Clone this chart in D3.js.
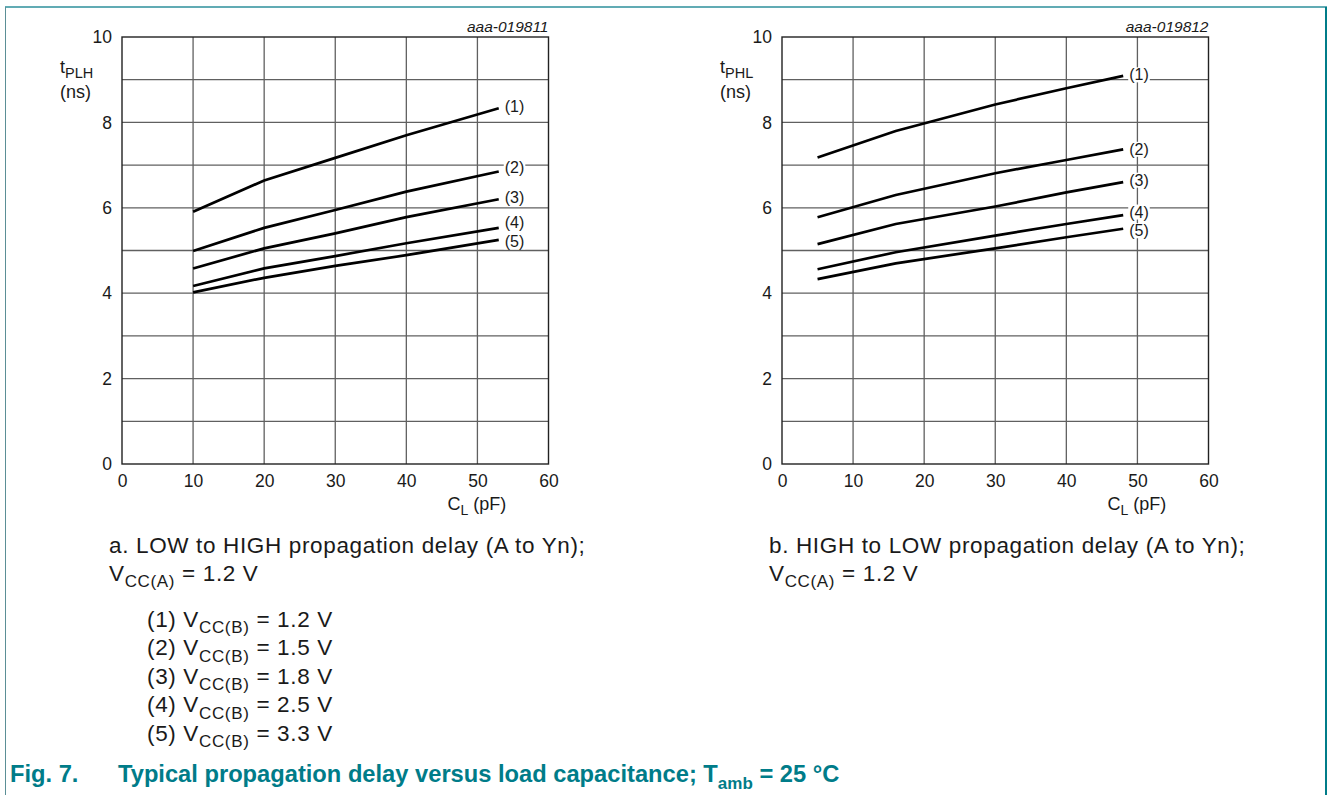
<!DOCTYPE html>
<html>
<head>
<meta charset="utf-8">
<script src="https://cdn.jsdelivr.net/npm/d3@7"></script>
<style>
  body { margin: 0; background: #fff; }
  text { font-family: "Liberation Sans", Arial, Helvetica, sans-serif; }
</style>
</head>
<body>
<div class="main_content"></div>
<script>
// ---- data ----
const curveNames = ['(1)', '(2)', '(3)', '(4)', '(5)'];
const vccB = ['1.2', '1.5', '1.8', '2.5', '3.3'];

// a. tPLH vs CL
const plhCL = [10, 20, 30, 40, 53];
const plh1 = [5.91, 6.64, 7.17, 7.70, 8.33];
const plh2 = [4.99, 5.53, 5.95, 6.38, 6.85];
const plh3 = [4.58, 5.05, 5.40, 5.78, 6.20];
const plh4 = [4.17, 4.58, 4.87, 5.17, 5.53];
const plh5 = [4.02, 4.36, 4.64, 4.89, 5.25];

// b. tPHL vs CL
const phlCL = [5, 16, 30, 40, 48];
const phl1 = [7.18, 7.80, 8.42, 8.80, 9.09];
const phl2 = [5.78, 6.30, 6.81, 7.12, 7.37];
const phl3 = [5.15, 5.62, 6.03, 6.36, 6.60];
const phl4 = [4.56, 4.96, 5.35, 5.62, 5.83];
const phl5 = [4.33, 4.70, 5.05, 5.31, 5.51];

const xTicks = [0, 10, 20, 30, 40, 50, 60];
const yTicks = [0, 2, 4, 6, 8, 10];
const yGrid = [1, 2, 3, 4, 5, 6, 7, 8, 9];

// label nudges (px) so the tags don't collide
const plhLabelDy = [-2, -4, -2, -5, 2];
const phlLabelDy = [-1, 0, -2, -3, 2];

const W = 1328, H = 795;
const teal = '#007c89';
const ink = '#1a1a1a';

let svg = d3.select('.main_content').append('svg')
    .attr('width', W)
    .attr('height', H);

svg.append('rect').attr('width', W).attr('height', H).attr('fill', '#fff');

// page frame
svg.append('line').attr('x1', 5).attr('x2', 1327).attr('y1', 7).attr('y2', 7)
    .style('stroke', '#2d8f9b').style('stroke-width', 1.5);
svg.append('line').attr('x1', 5.5).attr('x2', 5.5).attr('y1', 7).attr('y2', H)
    .style('stroke', '#5b8f96').style('stroke-width', 1);
svg.append('line').attr('x1', 1326).attr('x2', 1326).attr('y1', 7).attr('y2', H)
    .style('stroke', teal).style('stroke-width', 2);

// text with subscripts: parts = [[string, isSub], ...]
function richText(g, x, y, parts, size, subSize, attrs, shift) {
    let t = g.append('text').attr('x', x).attr('y', y).attr('font-size', size);
    Object.entries(attrs || {}).forEach(([k, v]) => t.attr(k, v));
    let dy = shift || size * 0.28;
    let down = false;
    parts.forEach(([s, sub]) => {
        let ts = t.append('tspan').text(s);
        if (sub && !down) { ts.attr('dy', dy).attr('font-size', subSize); down = true; }
        else if (sub) { ts.attr('font-size', subSize); }
        else if (down) { ts.attr('dy', -dy); down = false; }
    });
    return t;
}

function drawPanel(opt) {
    let g = svg.append('g');
    let x = d3.scaleLinear().domain([0, 60]).range([opt.left, opt.left + 426.5]);
    let y = d3.scaleLinear().domain([0, 10]).range([464, 37]);

    // grid
    g.selectAll('.vgrid').data(xTicks.slice(1, -1)).enter().append('line')
        .attr('x1', d => x(d)).attr('x2', d => x(d))
        .attr('y1', y(0)).attr('y2', y(10))
        .style('stroke', '#606060').style('stroke-width', 1.3);
    g.selectAll('.hgrid').data(yGrid).enter().append('line')
        .attr('x1', x(0)).attr('x2', x(60))
        .attr('y1', d => y(d)).attr('y2', d => y(d))
        .style('stroke', '#606060').style('stroke-width', 1.3);
    g.append('rect')
        .attr('x', x(0)).attr('y', y(10))
        .attr('width', x(60) - x(0)).attr('height', y(0) - y(10))
        .style('fill', 'none').style('stroke', '#222').style('stroke-width', 1.4);

    // axes (labels only)
    let ax = g.append('g').attr('transform', `translate(0,${y(0)})`)
        .call(d3.axisBottom(x).tickValues(xTicks).tickSize(0).tickPadding(11));
    let ay = g.append('g').attr('transform', `translate(${x(0)},0)`)
        .call(d3.axisLeft(y).tickValues(yTicks).tickSize(0).tickPadding(10));
    [ax, ay].forEach(a => {
        a.select('.domain').remove();
        a.selectAll('text').attr('font-size', 17.5).attr('fill', ink)
            .style('font-family', '"Liberation Sans", Arial, sans-serif');
    });

    // axis titles
    richText(g, x(0) - 62, 73, [['t', false], [opt.sub, true]], 18, 14.5, {fill: ink}, 4.5);
    g.append('text').attr('x', x(0) - 62).attr('y', 97.5).attr('font-size', 18)
        .attr('fill', ink).text('(ns)');
    richText(g, x(50) - 30, 510, [['C', false], ['L', true], [' (pF)', false]], 18, 14, {fill: ink});

    g.append('text').attr('x', x(60)).attr('y', 32)
        .attr('text-anchor', 'end').attr('font-size', 15.5).attr('font-style', 'italic')
        .attr('fill', ink).text(opt.code);

    // curves
    let line = d3.line().x(d => x(d[0])).y(d => y(d[1]));
    opt.series.forEach((vals, i) => {
        let pts = opt.cl.map((c, j) => [c, vals[j]]);
        g.append('path').datum(pts).attr('d', line)
            .style('fill', 'none').style('stroke', '#000')
            .style('stroke-width', 2.7).style('stroke-linecap', 'butt');
    });
    // curve tags
    opt.series.forEach((vals, i) => {
        let n = vals.length - 1;
        let lx = x(opt.cl[n]) + 6, ly = y(vals[n]) + opt.dy[i];
        let bg = g.append('rect').style('fill', '#fff');
        let t = g.append('text').attr('x', lx).attr('y', ly)
            .attr('dominant-baseline', 'central').attr('font-size', 16)
            .attr('fill', ink).text(curveNames[i]);
        let b = t.node().getBBox();
        bg.attr('x', b.x - 1).attr('y', b.y + 1).attr('width', b.width + 2).attr('height', b.height - 2);
    });

    // caption
    let cap = {fill: ink, 'letter-spacing': '0.65px'};
    g.append('text').attr('x', opt.capX).attr('y', 553).attr('font-size', 22.5)
        .attr('fill', ink).attr('letter-spacing', '0.65px').text(opt.caption);
    richText(g, opt.capX, 581, [['V', false], ['CC(A)', true], [' = 1.2 V', false]], 22.5, 17, cap);
}

drawPanel({
    left: 122, sub: 'PLH', code: 'aaa-019811', cl: plhCL,
    series: [plh1, plh2, plh3, plh4, plh5], dy: plhLabelDy,
    capX: 109, caption: 'a. LOW to HIGH propagation delay (A to Yn);'
});
drawPanel({
    left: 782, sub: 'PHL', code: 'aaa-019812', cl: phlCL,
    series: [phl1, phl2, phl3, phl4, phl5], dy: phlLabelDy,
    capX: 769, caption: 'b. HIGH to LOW propagation delay (A to Yn);'
});

// legend for the supply voltages
let legend = svg.append('g');
vccB.forEach((v, i) => {
    richText(legend, 147, 627 + i * 28.4,
        [[curveNames[i] + ' V', false], ['CC(B)', true], [' = ' + v + ' V', false]],
        22.5, 17, {fill: ink, 'letter-spacing': '0.65px'});
});

// figure title
let fig = svg.append('g').attr('fill', teal).attr('font-weight', 'bold');
fig.append('text').attr('x', 10).attr('y', 782).attr('font-size', 23.7).text('Fig. 7.');
richText(fig, 118, 782,
    [['Typical propagation delay versus load capacitance; T', false], ['amb', true], [' = 25 °C', false]],
    23.7, 17, {});
</script>
</body>
</html>
